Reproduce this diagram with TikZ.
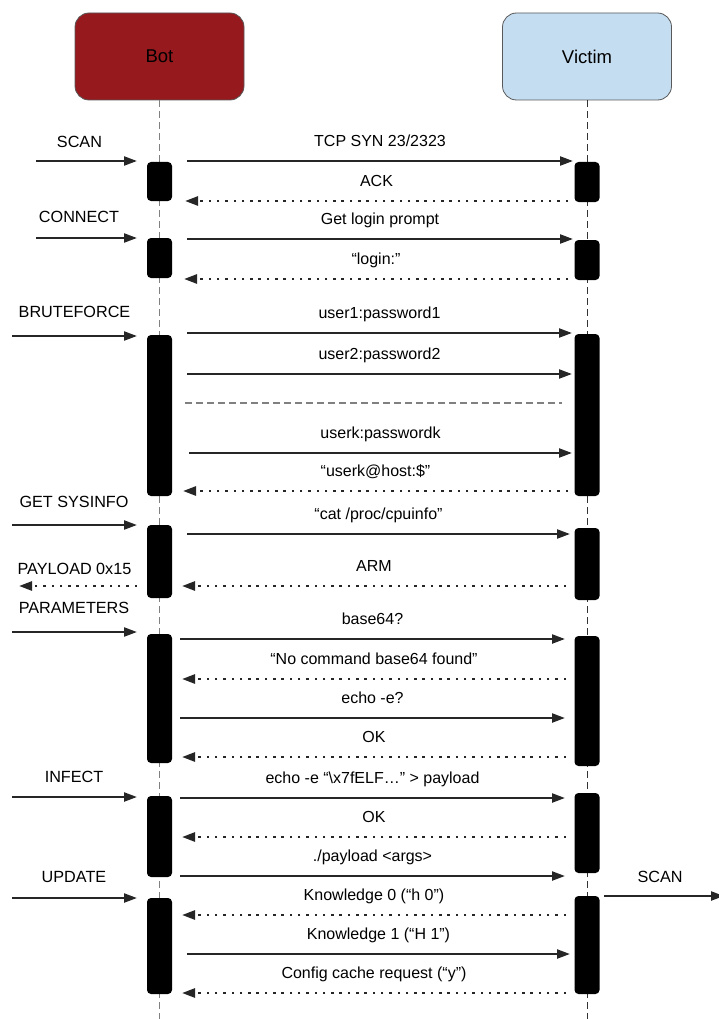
\documentclass[tikz,border=0pt]{standalone}
\usepackage{fontspec}
\setmainfont{Liberation Sans}
\usepackage{xcolor}
\usetikzlibrary{arrows.meta,positioning}

\definecolor{botred}{RGB}{149,25,29}
\definecolor{victimblue}{RGB}{197,221,241}

\begin{document}
\begin{tikzpicture}[
    x=1pt, y=-1pt,
    actor/.style={rectangle, draw=black!65, line width=0.8pt, rounded corners=14pt, minimum width=169pt, minimum height=87pt, font=\fontsize{18.5}{22}\selectfont},
    bar/.style={rectangle, fill=black, rounded corners=4pt, minimum width=25pt, inner sep=0pt},
    lifeline/.style={line width=0.9pt, dash pattern=on 7pt off 4pt},
    msg/.style={->, >={Triangle[length=13pt,width=9pt]}, line width=2.2pt, black!85},
    reply/.style={msg, line width=2.5pt, dash pattern=on 2.5pt off 5.8pt},
    lbl/.style={midway, above=9.5pt, inner sep=0pt, text height=12pt, text depth=3.5pt, font=\fontsize{16}{19}\selectfont, black},
    side/.style={inner sep=0pt, text height=11.6pt, text depth=0pt, font=\fontsize{16.2}{19}\selectfont}
]
\useasboundingbox (0,0) rectangle (718,1019);

% Actors
\node[actor, fill=botred] (bot) at (159.5,56.5) {Bot};
\node[actor, fill=victimblue] (victim) at (587,56.5) {Victim};

% Lifelines
\coordinate (botend) at (159.5,1019);
\coordinate (victimend) at (587,1019);
\draw[lifeline, gray] (bot.south) -- (botend);
\draw[lifeline, black!80] (victim.south) -- (victimend);

% Activation bars
\foreach \n/\y/\h in {1/181.5/39, 2/258/40, 3/415.5/161, 4/561.5/73, 5/698.5/129, 6/836.5/81, 7/946/96}
    \node[bar, minimum height=\h pt] (b\n) at (159.5,\y) {};
\foreach \n/\y/\h in {1/182/40, 2/260/40, 3/415/162, 4/564/72, 5/701/130, 6/833/80, 7/945/98}
    \node[bar, minimum height=\h pt] (v\n) at (587,\y) {};

% Message end points
\foreach \n/\y/\xl/\xr in {1/161/187/573, 2/201/185/568, 3/239/187/573, 4/279/184/568,
    5/333/187/572, 6/374/187/572, 7/453/189/572, 8/491/183/568, 9/534/187/570, 10/586/182/566,
    11/639/180/565, 12/679/182/566, 13/718/180/565, 14/757/182/566, 15/798/180/565,
    16/837/182/566, 17/876/180/565, 18/915/182/566, 19/954/187/570, 20/993/182/566}
{
    \coordinate (ml\n) at (\xl,\y);
    \coordinate (mr\n) at (\xr,\y);
}

% Bot <-> Victim
\draw[msg] (ml1) -- node[lbl] {TCP SYN 23/2323} (mr1);
\draw[reply] (mr2) -- node[lbl] {ACK} (ml2);
\draw[msg] (ml3) -- node[lbl] {Get login prompt} (mr3);
\draw[reply] (mr4) -- node[lbl] {“login:”} (ml4);
\draw[msg] (ml5) -- node[lbl] {user1:password1} (mr5);
\draw[msg] (ml6) -- node[lbl] {user2:password2} (mr6);
\coordinate (sepl) at (185,403);
\coordinate (sepr) at (562,403);
\draw[gray, line width=1.2pt, dash pattern=on 7pt off 4pt] (sepl) -- (sepr);
\draw[msg] (ml7) -- node[lbl] {userk:passwordk} (mr7);
\draw[reply] (mr8) -- node[lbl] {“userk@host:\$”} (ml8);
\draw[msg] (ml9) -- node[lbl] {“cat /proc/cpuinfo”} (mr9);
\draw[reply] (mr10) -- node[lbl] {ARM} (ml10);
\draw[msg] (ml11) -- node[lbl] {base64?} (mr11);
\draw[reply] (mr12) -- node[lbl] {“No command base64 found”} (ml12);
\draw[msg] (ml13) -- node[lbl] {echo -e?} (mr13);
\draw[reply] (mr14) -- node[lbl] {OK} (ml14);
\draw[msg] (ml15) -- node[lbl] {echo -e “\textbackslash x7fELF…” > payload} (mr15);
\draw[reply] (mr16) -- node[lbl] {OK} (ml16);
\draw[msg] (ml17) -- node[lbl] {./payload <args>} (mr17);
\draw[reply] (mr18) -- node[lbl] {Knowledge 0 (“h 0”)} (ml18);
\draw[msg] (ml19) -- node[lbl] {Knowledge 1 (“H 1”)} (mr19);
\draw[reply] (mr20) -- node[lbl] {Config cache request (“y”)} (ml20);

% Commands into the bot
\foreach \n/\y/\xs in {scan/161/36, connect/238/36, brute/336/12, sysinfo/525/12,
    params/632/12, infect/797/12, update/898/12}
{
    \coordinate (\n s) at (\xs,\y);
    \coordinate (\n e) at (137,\y);
}
\node[side] (scanlbl) at (79.5,142) {SCAN};
\node[side] (connectlbl) at (79,217) {CONNECT};
\node[side] (brutelbl) at (74.5,312) {BRUTEFORCE};
\node[side] (sysinfolbl) at (74,502) {GET SYSINFO};
\node[side] (payloadlbl) at (74.5,569) {PAYLOAD 0x15};
\node[side] (paramslbl) at (74,608) {PARAMETERS};
\node[side] (infectlbl) at (74,777) {INFECT};
\node[side] (updatelbl) at (74,877) {UPDATE};
\node[side] (rescanlbl) at (660,877) {SCAN};

\draw[msg] (scans) -- (scane);
\draw[msg] (connects) -- (connecte);
\draw[msg] (brutes) -- (brutee);
\draw[msg] (sysinfos) -- (sysinfoe);
\draw[msg] (paramss) -- (paramse);
\draw[msg] (infects) -- (infecte);
\draw[msg] (updates) -- (updatee);

% Out of the bot
\coordinate (payloads) at (137,586);
\coordinate (payloade) at (19,586);
\draw[reply] (payloads) -- (payloade);
\coordinate (rescans) at (604,896);
\coordinate (rescane) at (724,896);
\draw[msg] (rescans) -- (rescane);

\end{tikzpicture}
\end{document}
